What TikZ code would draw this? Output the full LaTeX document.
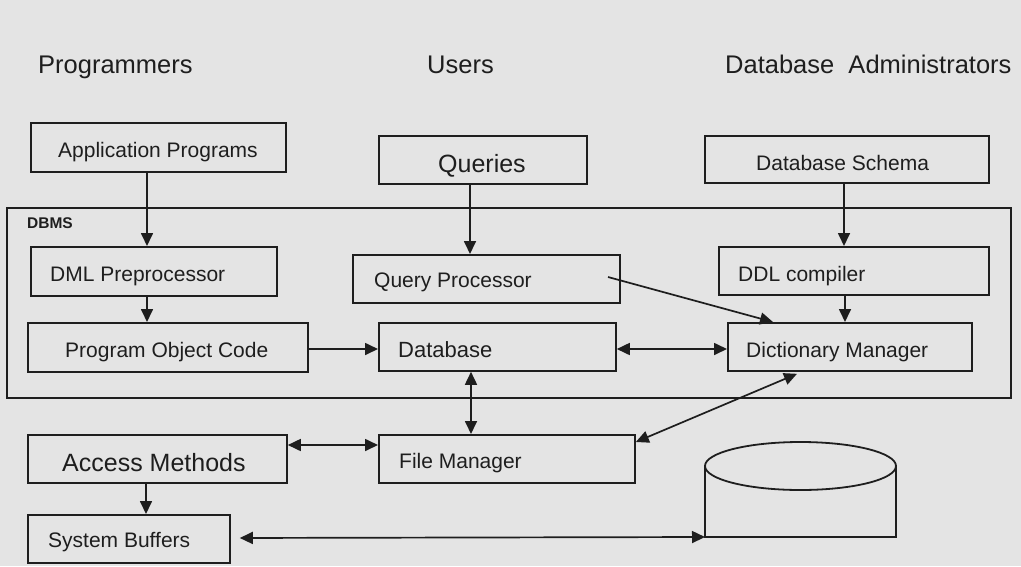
\documentclass[tikz,border=0pt]{standalone}
\usepackage{fontspec}
\setmainfont{Liberation Sans}
\usetikzlibrary{arrows.meta}
\definecolor{bg}{RGB}{228,228,228}
\definecolor{ink}{RGB}{30,30,30}
\begin{document}
\begin{tikzpicture}[x=1pt,y=-1pt,
  box/.style={draw=ink, line width=1.8pt, rectangle, inner sep=0pt, anchor=north west},
  txt/.style={anchor=base west, inner sep=0pt, text=ink, font=\fontsize{21}{21}\selectfont},
  bigtxt/.style={txt, font=\fontsize{25}{25}\selectfont},
  head/.style={txt, font=\fontsize{25.5}{25.5}\selectfont},
  arr/.style={draw=ink, line width=1.7pt, -{Triangle[length=13pt,width=12pt]}},
  darr/.style={draw=ink, line width=1.7pt, {Triangle[length=13pt,width=12pt]}-{Triangle[length=13pt,width=12pt]}}]
\useasboundingbox (0,0) rectangle (1021,566);
\fill[bg] (0,0) rectangle (1021,566);

% headers
\node[head] (hprog) at (38,73) {Programmers};
\node[head] (husers) at (427,73) {Users};
\node[head] (hdba) at (725,73) {Database\ \ Administrators};

% DBMS frame
\node[box, minimum width=1004pt, minimum height=190pt] (dbms) at (6,207) {};
\node[txt, font=\bfseries\fontsize{15.5}{15.5}\selectfont] (dbmst) at (27,228) {DBMS};

% boxes
\node[box, minimum width=255pt, minimum height=49pt] (app) at (30,122) {};
\node[box, minimum width=208pt, minimum height=48pt] (qry) at (378,135) {};
\node[box, minimum width=284pt, minimum height=47pt] (sch) at (704,135) {};
\node[box, minimum width=246pt, minimum height=49pt] (dml) at (30,246) {};
\node[box, minimum width=280pt, minimum height=49pt] (poc) at (27,322) {};
\node[box, minimum width=267pt, minimum height=48pt] (qp) at (352,254) {};
\node[box, minimum width=237pt, minimum height=48pt] (db) at (378,322) {};
\node[box, minimum width=270pt, minimum height=48pt] (ddl) at (718,246) {};
\node[box, minimum width=244pt, minimum height=48pt] (dm) at (727,322) {};
\node[box, minimum width=256pt, minimum height=48pt] (fm) at (378,434) {};
\node[box, minimum width=259pt, minimum height=48pt] (am) at (27,434) {};
\node[box, minimum width=202pt, minimum height=48pt] (sb) at (27,514) {};

% texts
\node[txt] (appt) at (58,157) {Application Programs};
\node[bigtxt] (qryt) at (438,172) {Queries};
\node[txt] (scht) at (756,170) {Database Schema};
\node[txt] (dmlt) at (50,281) {DML Preprocessor};
\node[txt] (poct) at (65,357) {Program Object Code};
\node[txt] (qpt) at (374,287) {Query Processor};
\node[txt, font=\fontsize{22}{22}\selectfont] (dbt) at (398,357) {Database};
\node[txt] (ddlt) at (738,281) {DDL compiler};
\node[txt] (dmt) at (746,357) {Dictionary Manager};
\node[txt] (fmt) at (399,468) {File Manager};
\node[bigtxt] (amt) at (62,471) {Access Methods};
\node[txt] (sbt) at (48,547) {System Buffers};

% disk (cylinder with flat bottom)
\coordinate (disk) at (705,537);
\draw[draw=ink, line width=1.8pt] (705,466) -- (705,537) -- (896,537) -- (896,466);
\draw[draw=ink, line width=1.8pt] (800.5,466) ellipse [x radius=95.5, y radius=24];

% connectors
\draw[arr] (app.south -| 147,0) -- (dml.north -| 147,0);
\draw[arr] (dml.south -| 147,0) -- (poc.north -| 147,0);
\draw[arr] (qry.south -| 470,0) -- (qp.north -| 470,0);
\draw[arr] (sch.south -| 844,0) -- (ddl.north -| 844,0);
\draw[arr] (ddl.south -| 845,0) -- (dm.north -| 845,0);
\draw[arr] (poc.east |- 0,349) -- (db.west |- 0,349);
\coordinate (qpout) at (608,277);
\draw[arr] (qpout) -- (dm.north -| 773,0);
\draw[darr] (db.east |- 0,349) -- (dm.west |- 0,349);
\draw[darr] (db.south -| 471,0) -- (fm.north -| 471,0);
\draw[darr] ([yshift=-2pt]dm.south -| 797,0) -- (fm.east |- 0,442);
\draw[darr] (am.east |- 0,445) -- (fm.west |- 0,445);
\draw[arr] (am.south -| 146,0) -- (sb.north -| 146,0);
\draw[darr, shorten <=9pt] (sb.east |- 0,538) -- (disk);
\end{tikzpicture}
\end{document}
